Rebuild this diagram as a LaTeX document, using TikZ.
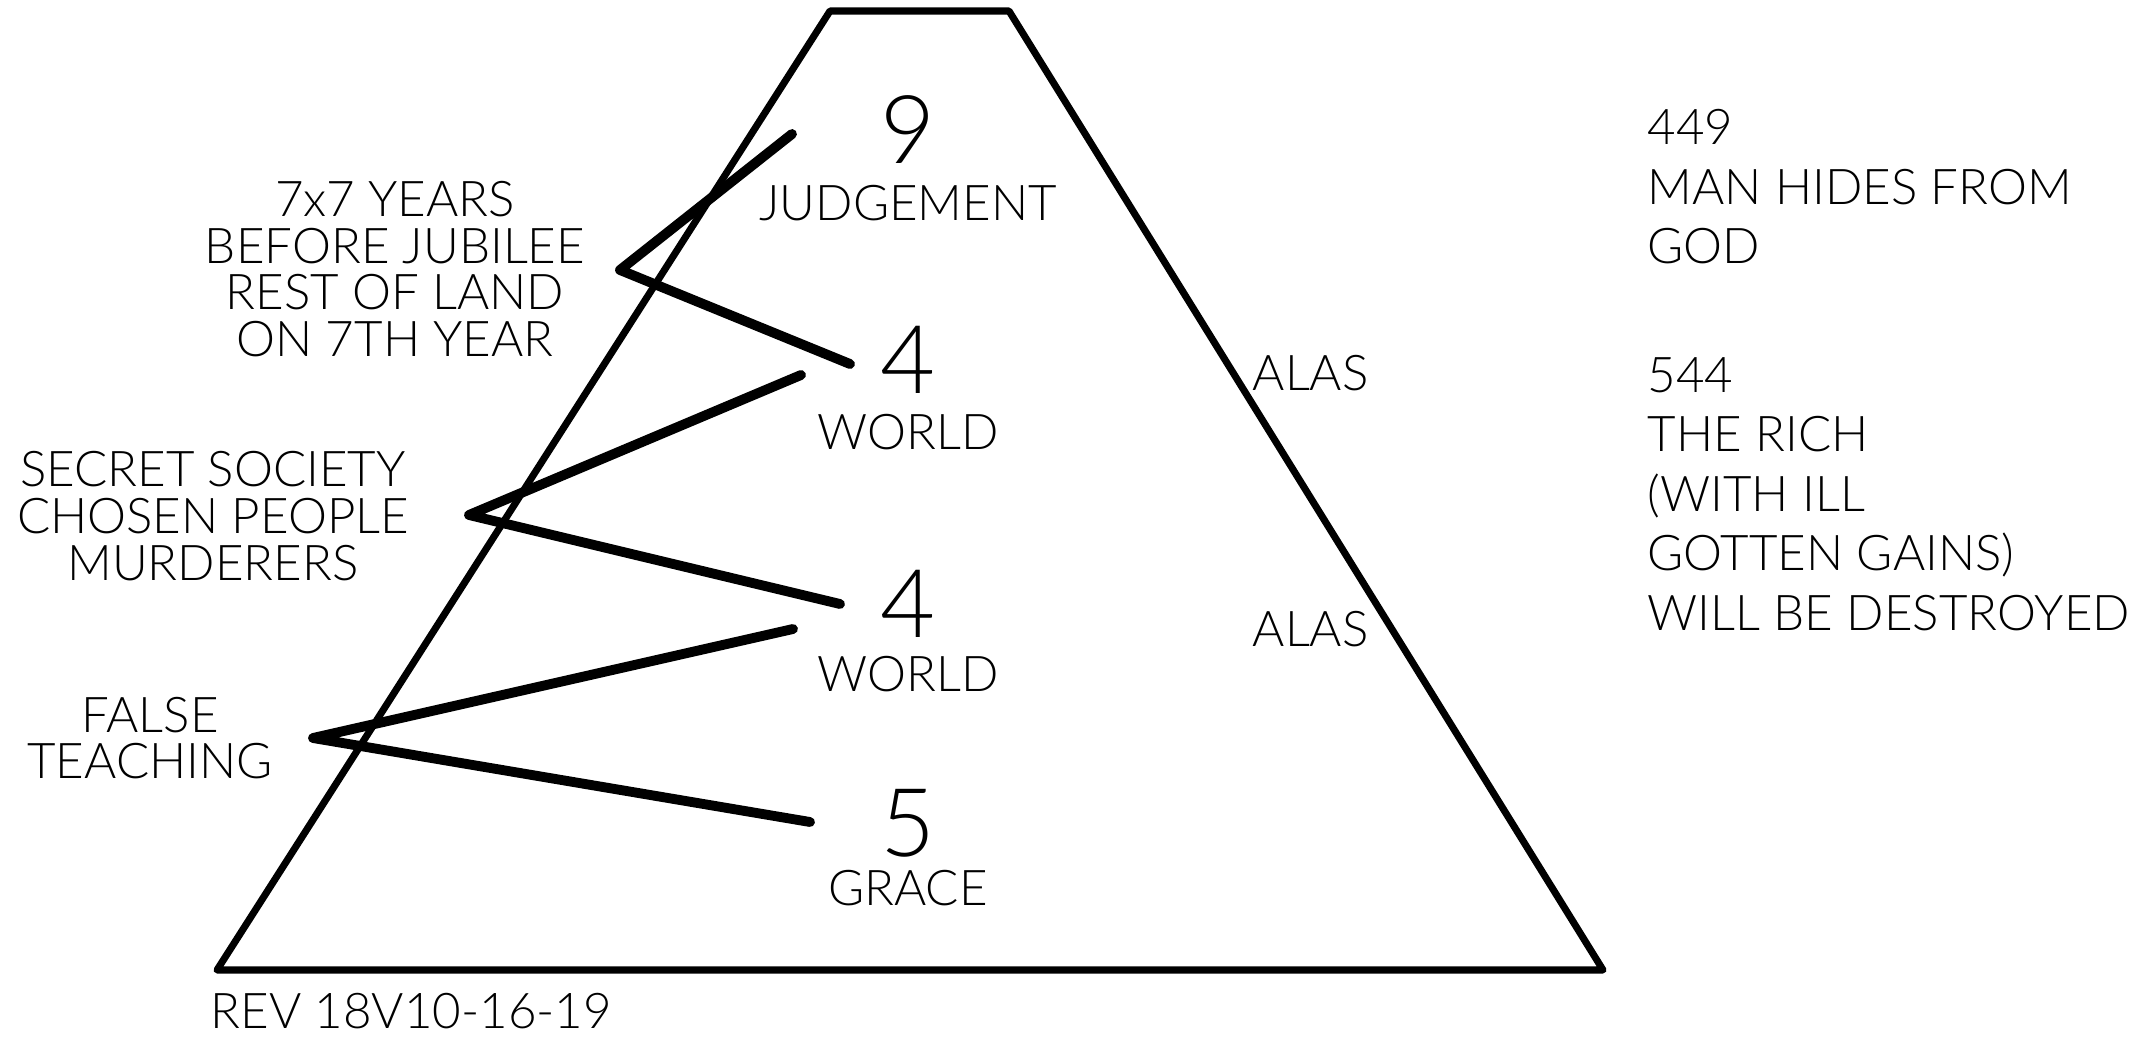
\documentclass[tikz,border=0pt]{standalone}
\usepackage{fontspec}
\setmainfont{Lato Light}
\usetikzlibrary{positioning}
\tikzset{
  outline/.style={line width=2pt, line join=round},
  pointer/.style={line width=2.8pt, line cap=round, line join=round},
  bignum/.style={font=\fontsize{27}{27}\selectfont},
  word/.style={font=\fontsize{14}{14}\selectfont},
  note/.style={font=\fontsize{14}{16.9}\selectfont, align=left, anchor=west}
}

\begin{document}
\begin{tikzpicture}[x=0.01cm, y=-0.01cm, every node/.style={font=\fontsize{14}{13.3}\selectfont, align=center, inner sep=0pt}]
    \useasboundingbox (0,0) rectangle (2152,1037);

    % the pyramid
    \coordinate (tl) at (830,11);
    \coordinate (tr) at (1009,11);
    \coordinate (br) at (1603,970);
    \coordinate (bl) at (217,970);
    \draw[outline] (tl) -- (tr) -- (br) -- (bl) -- cycle;

    % numbers down the middle
    \node[bignum] (nine) at (908,130) {9};
    \node[word] (judgement) at (908,203) {JUDGEMENT};
    \node[bignum] (fourA) at (908,360) {4};
    \node[word] (worldA) at (908,432) {WORLD};
    \node[bignum] (fourB) at (908,604) {4};
    \node[word] (worldB) at (908,674) {WORLD};
    \node[bignum] (five) at (908,823) {5};
    \node[word] (grace) at (908,888) {GRACE};

    % labels on the left
    \node (jubilee) at (395,269) {7x7 YEARS\\BEFORE JUBILEE\\REST OF LAND\\ON 7TH YEAR};
    \node (secret) at (213,516) {SECRET SOCIETY\\CHOSEN PEOPLE\\MURDERERS};
    \node (falseteach) at (150,738) {FALSE\\TEACHING};
    \node[anchor=west] (rev) at (210,1011) {REV 18V10-16-19};

    % the zigzags
    \coordinate (z1a) at (792,134);
    \coordinate (z1b) at (620,270);
    \coordinate (z1c) at (850,364);
    \coordinate (z2a) at (801,375);
    \coordinate (z2b) at (469,515);
    \coordinate (z2c) at (840,604);
    \coordinate (z3a) at (793,629);
    \coordinate (z3b) at (313,738);
    \coordinate (z3c) at (810,822);
    \draw[pointer] (z1a) -- (z1b) -- (z1c);
    \draw[pointer] (z2a) -- (z2b) -- (z2c);
    \draw[pointer] (z3a) -- (z3b) -- (z3c);

    % right side
    \node[anchor=west] (alasA) at (1252,373) {ALAS};
    \node[anchor=west] (alasB) at (1252,629) {ALAS};
    \node[note] (hides) at (1647,187) {449\\MAN HIDES FROM\\GOD};
    \node[note] (rich) at (1647,494) {544\\THE RICH\\(WITH ILL\\GOTTEN GAINS)\\WILL BE DESTROYED};
\end{tikzpicture}
\end{document}
